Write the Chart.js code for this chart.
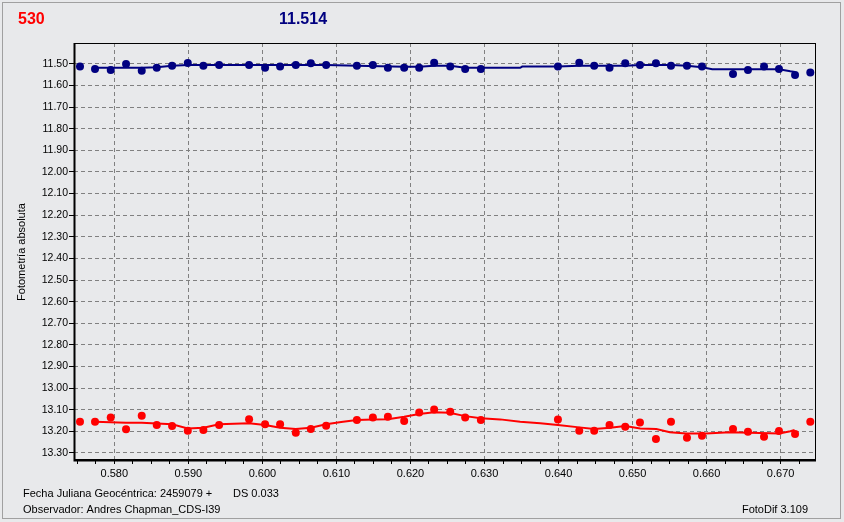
<!DOCTYPE html>
<html>
<head>
<meta charset="utf-8">
<script src="https://cdn.jsdelivr.net/npm/chart.js@4.4.0/dist/chart.umd.min.js"></script>
<style>
  html, body { margin: 0; padding: 0; background: #e8e9eb; }
  #wrap { width: 844px; height: 522px; position: relative; }
</style>
</head>
<body>
<div id="wrap"><canvas id="foto" width="844" height="522"></canvas></div>
<script>
// fecha juliana (fraccion) de cada medida
const jd = [0.57536, 0.57739, 0.57951, 0.58158, 0.58370, 0.58573, 0.58780, 0.58992, 0.59203, 0.59415,
  0.59820, 0.60036, 0.60239, 0.60451, 0.60654, 0.60861, 0.61276, 0.61492, 0.61695, 0.61915,
  0.62118, 0.62320, 0.62537, 0.62739, 0.62951, 0.63992, 0.64280, 0.64482, 0.64689, 0.64901,
  0.65100, 0.65316, 0.65519, 0.65735, 0.65938, 0.66357, 0.66559, 0.66776, 0.66978, 0.67195, 0.67401];

// estrella de comparacion (azul)
const compMag = [11.512, 11.523, 11.528, 11.500, 11.531, 11.517, 11.508, 11.495, 11.508, 11.505,
  11.505, 11.517, 11.512, 11.505, 11.497, 11.505, 11.508, 11.505, 11.517, 11.517,
  11.517, 11.494, 11.512, 11.523, 11.523, 11.512, 11.494, 11.508, 11.517, 11.497,
  11.505, 11.497, 11.508, 11.508, 11.512, 11.546, 11.528, 11.512, 11.523, 11.551, 11.540];

// objeto 530 (rojo)
const objMag = [13.156, 13.156, 13.136, 13.191, 13.128, 13.171, 13.176, 13.198, 13.194, 13.171,
  13.144, 13.168, 13.167, 13.207, 13.190, 13.175, 13.148, 13.136, 13.133, 13.153,
  13.113, 13.099, 13.110, 13.136, 13.148, 13.145, 13.198, 13.198, 13.171, 13.179,
  13.159, 13.236, 13.156, 13.230, 13.221, 13.190, 13.202, 13.225, 13.199, 13.213, 13.156];

// curvas suavizadas
const compFitJd = [0.57739, 0.58370, 0.58573, 0.58780, 0.58992, 0.60861, 0.61276, 0.61915, 0.62118, 0.62320,
  0.62537, 0.62739, 0.63482, 0.63509, 0.63992, 0.64280, 0.64901, 0.65104, 0.65523, 0.65735,
  0.65938, 0.66077, 0.66978, 0.67131, 0.67195];
const compFit = [11.518, 11.518, 11.515, 11.508, 11.505, 11.505, 11.508, 11.513, 11.513, 11.508,
  11.508, 11.518, 11.518, 11.512, 11.512, 11.508, 11.508, 11.505, 11.505, 11.508,
  11.515, 11.524, 11.524, 11.534, 11.537];

const objFitJd = [0.57739, 0.58158, 0.58370, 0.58780, 0.58992, 0.59203, 0.59415, 0.59820, 0.60036, 0.60239,
  0.60451, 0.60654, 0.60861, 0.61064, 0.61276, 0.61492, 0.61695, 0.61915, 0.62118, 0.62320,
  0.62527, 0.62739, 0.62951, 0.63212, 0.63482, 0.63753, 0.63992, 0.64280, 0.64482, 0.64699,
  0.64901, 0.65104, 0.65320, 0.65504, 0.65721, 0.65991, 0.66316, 0.66982, 0.67131, 0.67189];
const objFit = [13.156, 13.161, 13.161, 13.168, 13.187, 13.184, 13.168, 13.163, 13.171, 13.184,
  13.190, 13.184, 13.168, 13.157, 13.148, 13.145, 13.144, 13.133, 13.120, 13.112,
  13.114, 13.130, 13.140, 13.145, 13.156, 13.163, 13.171, 13.182, 13.190, 13.184,
  13.176, 13.187, 13.190, 13.205, 13.210, 13.210, 13.205, 13.210, 13.200, 13.194];

const xTicks = [0.575, 0.5775, 0.580, 0.5825, 0.585, 0.5875, 0.590, 0.5925, 0.595, 0.5975, 0.600, 0.6025,
  0.605, 0.6075, 0.610, 0.6125, 0.615, 0.6175, 0.620, 0.6225, 0.625, 0.6275, 0.630, 0.6325,
  0.635, 0.6375, 0.640, 0.6425, 0.645, 0.6475, 0.650, 0.6525, 0.655, 0.6575, 0.660, 0.6625,
  0.665, 0.6675, 0.670, 0.6725];
const yTicks = [11.5, 11.6, 11.7, 11.8, 11.9, 12.0, 12.1, 12.2, 12.3, 12.4, 12.5, 12.6, 12.7,
  12.8, 12.9, 13.0, 13.1, 13.2, 13.3];

const NAVY = '#000080';
const RED = '#ff0000';

function pts(xs, ys) {
  return xs.map((x, i) => ({x: x, y: ys[i]}));
}
function isMajor(v) {
  return Math.abs(v * 100 - Math.round(v * 100)) < 1e-6;
}

// textos fijos, marco y bordes del grafico
const decor = {
  id: 'decor',
  afterDraw(chart) {
    const c = chart.ctx;
    const a = chart.chartArea;
    c.save();
    c.strokeStyle = '#000';
    c.lineWidth = 1;
    c.strokeRect(a.left + 0.5, a.top + 0.5, a.right - a.left - 1, a.bottom - a.top - 1);
    c.lineWidth = 2;
    c.beginPath();
    c.moveTo(a.left + 0.5, a.top);
    c.lineTo(a.left + 0.5, a.bottom + 0.5);
    c.lineTo(a.right, a.bottom + 0.5);
    c.stroke();

    c.strokeStyle = '#a0a0a0';
    c.lineWidth = 1;
    c.strokeRect(2.5, 2.5, 838, 516);

    c.font = 'bold 16px "Liberation Sans", Arial, sans-serif';
    c.textBaseline = 'middle';
    c.fillStyle = RED;
    c.fillText('530', 18, 20);
    c.fillStyle = NAVY;
    c.fillText('11.514', 279, 20);

    c.fillStyle = '#000';
    c.font = '11px "Liberation Sans", Arial, sans-serif';
    c.fillText('Fecha Juliana Geocéntrica: 2459079 +', 23, 494);
    c.fillText('DS 0.033', 233, 494);
    c.fillText('Observador: Andres Chapman_CDS-I39', 23, 510);
    c.textAlign = 'right';
    c.fillText('FotoDif 3.109', 808, 510);

    c.translate(22, 252);
    c.rotate(-Math.PI / 2);
    c.textAlign = 'center';
    c.fillText('Fotometría absoluta', 0, 0);
    c.restore();
  }
};

new Chart(document.getElementById('foto'), {
  type: 'scatter',
  data: {
    datasets: [
      { data: pts(compFitJd, compFit), showLine: true, borderColor: NAVY, borderWidth: 2, pointRadius: 0, tension: 0 },
      { data: pts(jd, compMag), showLine: false, backgroundColor: NAVY, borderColor: NAVY, pointRadius: 4, borderWidth: 0 },
      { data: pts(objFitJd, objFit), showLine: true, borderColor: RED, borderWidth: 2, pointRadius: 0, tension: 0 },
      { data: pts(jd, objMag), showLine: false, backgroundColor: RED, borderColor: RED, pointRadius: 4, borderWidth: 0 }
    ]
  },
  options: {
    responsive: false,
    animation: false,
    events: [],
    layout: { padding: { left: 0, right: 28, top: 43, bottom: 0 } },
    plugins: { legend: { display: false }, tooltip: { enabled: false } },
    scales: {
      x: {
        type: 'linear',
        min: 0.57455,
        max: 0.67478,
        afterBuildTicks: s => { s.ticks = xTicks.map(v => ({value: v})); },
        afterFit: s => { s.height = 62; },
        grid: {
          color: ctx => (ctx.tick && isMajor(ctx.tick.value)) ? '#808080' : 'rgba(0,0,0,0)',
          tickColor: '#000',
          tickLength: 4,
          lineWidth: 1
        },
        border: { display: false, dash: [4, 3] },
        ticks: {
          autoSkip: false,
          maxRotation: 0,
          padding: 3,
          color: '#000',
          font: { family: '"Liberation Sans", Arial, sans-serif', size: 11 },
          callback: v => isMajor(v) ? v.toFixed(3) : ''
        }
      },
      y: {
        type: 'linear',
        reverse: true,
        min: 11.403,
        max: 13.333,
        afterBuildTicks: s => { s.ticks = yTicks.map(v => ({value: v})); },
        afterFit: s => { s.width = 74; },
        grid: { color: '#808080', tickColor: '#000', tickLength: 5, lineWidth: 1 },
        border: { display: false, dash: [4, 3] },
        ticks: {
          autoSkip: false,
          padding: 1,
          color: '#000',
          font: { family: '"Liberation Sans", Arial, sans-serif', size: 10.5 },
          callback: v => v.toFixed(2)
        }
      }
    }
  },
  plugins: [decor]
});
</script>
</body>
</html>
